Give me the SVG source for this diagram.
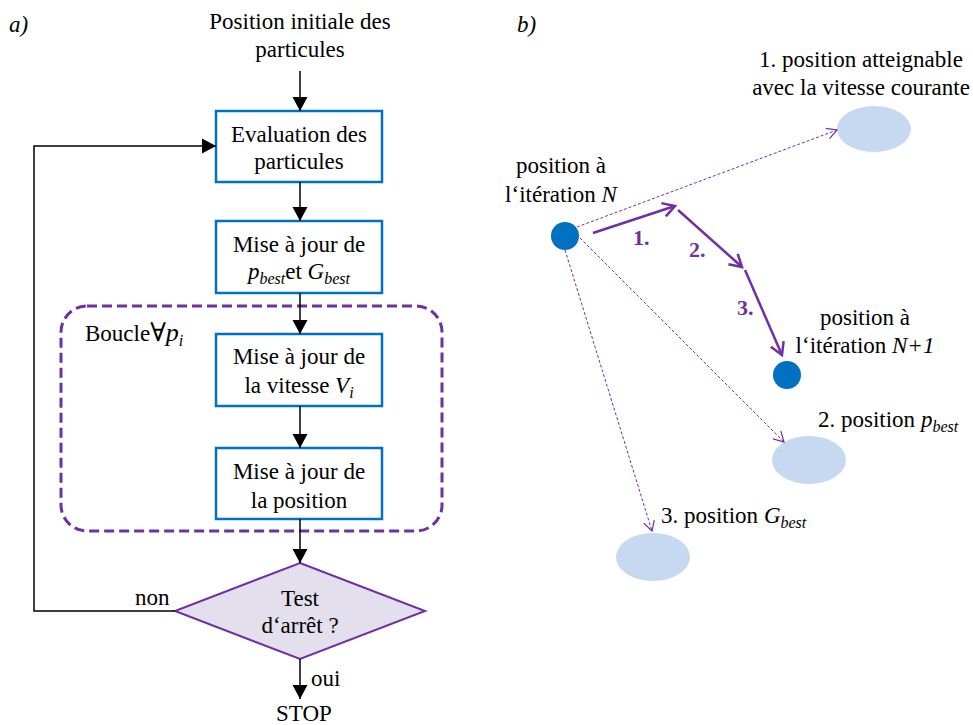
<svg xmlns="http://www.w3.org/2000/svg" width="973" height="725" viewBox="0 0 973 725">
<defs>
<marker id="tri" markerUnits="userSpaceOnUse" markerWidth="16" markerHeight="16" viewBox="0 0 16 16" refX="15" refY="8" orient="auto"><path d="M1,0.5 L15,8 L1,15.5 Z" fill="#000"/></marker>
<marker id="vthin" markerUnits="userSpaceOnUse" markerWidth="14" markerHeight="14" viewBox="0 0 14 14" refX="12" refY="7" orient="auto"><path d="M2,1.5 L12,7 L2,12.5" fill="none" stroke="#7030A0" stroke-width="1.2"/></marker>
<marker id="vthick" markerUnits="userSpaceOnUse" markerWidth="18" markerHeight="18" viewBox="0 0 18 18" refX="15" refY="9" orient="auto"><path d="M3,2 L15,9 L3,16" fill="none" stroke="#7030A0" stroke-width="2.5"/></marker>
</defs>
<style>
text{font-family:'Liberation Serif','DejaVu Serif',serif;font-size:23px;fill:#000}
.c{text-anchor:middle}
.i{font-style:italic}
.sub{font-style:italic;font-size:16px}
.box{fill:#fff;stroke:#0070C0;stroke-width:2.5}
.ln{stroke:#000;stroke-width:1.5;fill:none}
.dl{stroke:#7030A0;stroke-width:1;stroke-dasharray:3,2;fill:none}
.sl{stroke:#7030A0;stroke-width:2.5;fill:none}
.ell{fill:#C6D9F0}
.dot{fill:#0070C0}
.num{font-weight:bold;fill:#7030A0;font-size:22px}
</style>

<text x="9" y="32" class="i">a)</text>
<text x="517" y="32" class="i">b)</text>

<g id="start"><text x="300" y="29" class="c">Position initiale des</text><text x="300" y="57" class="c">particules</text></g>

<g id="loop"><rect x="61" y="306" width="381" height="225" rx="26" fill="none" stroke="#7030A0" stroke-width="3" stroke-dasharray="10,5"/><text x="85" y="341">Boucle<tspan font-size="26">∀</tspan><tspan class="i" font-size="26">p</tspan><tspan class="sub" dy="5">i</tspan></text></g>

<g id="eval"><rect class="box" x="216" y="111" width="166" height="71"/><text x="299" y="142" class="c">Evaluation des</text><text x="299" y="169" class="c">particules</text></g>

<g id="maj"><rect class="box" x="216" y="221" width="166" height="72"/><text x="299" y="252" class="c">Mise à jour de</text><text x="299" y="279" class="c"><tspan class="i">p</tspan><tspan class="sub" dy="5">best</tspan><tspan dy="-5">et </tspan><tspan class="i">G</tspan><tspan class="sub" dy="5">best</tspan></text></g>

<g id="vit"><rect class="box" x="216" y="334" width="166" height="72"/><text x="299" y="364" class="c">Mise à jour de</text><text x="299" y="393" class="c">la vitesse <tspan class="i">V</tspan><tspan class="sub" dy="5">i</tspan></text></g>

<g id="pos"><rect class="box" x="216" y="448" width="166" height="71"/><text x="299" y="479" class="c">Mise à jour de</text><text x="299" y="508" class="c">la position</text></g>

<g id="test"><path d="M300,563 L425,611 L300,659 L175,611 Z" fill="#E4DFEC" stroke="#7030A0" stroke-width="2"/><text x="300" y="606" class="c">Test</text><text x="300" y="633" class="c">d‘arrêt ?</text></g>

<g id="stop"><text x="304" y="721" class="c">STOP</text></g>

<g id="connectors-a">
<line class="ln" x1="300" y1="71" x2="300" y2="111" marker-end="url(#tri)"/>
<line class="ln" x1="300" y1="182" x2="300" y2="221" marker-end="url(#tri)"/>
<line class="ln" x1="300" y1="293" x2="300" y2="334" marker-end="url(#tri)"/>
<line class="ln" x1="300" y1="406" x2="300" y2="448" marker-end="url(#tri)"/>
<line class="ln" x1="300" y1="519" x2="300" y2="563" marker-end="url(#tri)"/>
<line class="ln" x1="300" y1="659" x2="300" y2="699" marker-end="url(#tri)"/>
<path class="ln" d="M175,611 L34,611 L34,146 L216,146" stroke="#333" marker-end="url(#tri)"/>
<text x="135" y="605">non</text>
<text x="311" y="686">oui</text>
</g>

<g id="posN"><circle class="dot" cx="565" cy="236" r="14"/><text x="561" y="173" class="c">position à</text><text x="561" y="202" class="c">l‘itération <tspan class="i">N</tspan></text></g>

<g id="posN1"><circle class="dot" cx="787" cy="375" r="14"/><text x="865" y="325" class="c">position à</text><text x="865" y="353" class="c">l‘itération <tspan class="i">N+1</tspan></text></g>

<g id="target1"><ellipse class="ell" cx="874" cy="129" rx="37" ry="23"/><text x="861" y="67" class="c">1. position atteignable</text><text x="861" y="95" class="c">avec la vitesse courante</text></g>

<g id="target2"><ellipse class="ell" cx="809" cy="460" rx="37" ry="24"/><text x="818" y="427">2. position <tspan class="i">p</tspan><tspan class="sub" dy="5">best</tspan></text></g>

<g id="target3"><ellipse class="ell" cx="653" cy="557" rx="37" ry="24"/><text x="661" y="523">3. position <tspan class="i">G</tspan><tspan class="sub" dy="5">best</tspan></text></g>

<g id="connectors-b">
<line class="dl" x1="577" y1="227" x2="837" y2="130" marker-end="url(#vthin)"/>
<line class="dl" x1="580" y1="238" x2="784" y2="442" marker-end="url(#vthin)"/>
<line class="dl" x1="565" y1="250" x2="652" y2="531" marker-end="url(#vthin)"/>
<line class="sl" x1="593" y1="233" x2="675" y2="206" marker-end="url(#vthick)"/>
<line class="sl" x1="678" y1="210" x2="742" y2="267" marker-end="url(#vthick)"/>
<line class="sl" x1="745" y1="270" x2="782" y2="355" marker-end="url(#vthick)"/>
<text x="633" y="245" class="num">1.</text>
<text x="689" y="257" class="num">2.</text>
<text x="737" y="315" class="num">3.</text>
</g>
</svg>
